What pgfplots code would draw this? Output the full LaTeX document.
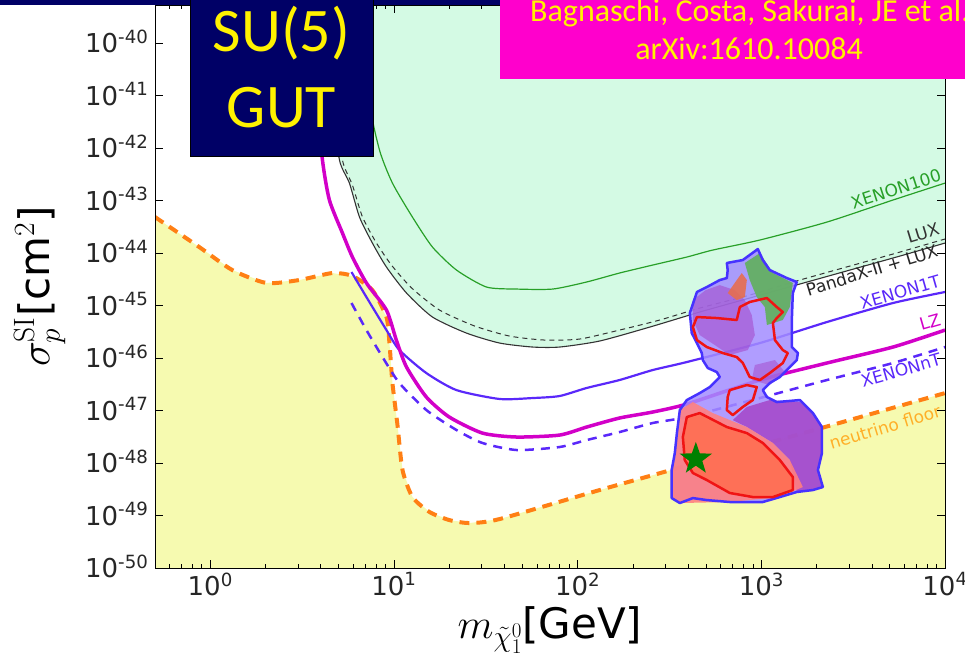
\RequirePackage{fix-cm}
\documentclass[border=0pt]{standalone}
\usepackage[no-math]{fontspec}
\setmainfont{DejaVu Sans}
\newfontfamily\carlito{Carlito}
\usepackage{pgfplots}
\pgfplotsset{compat=1.18}

\definecolor{mintfill}{RGB}{212,250,228}
\definecolor{floorfill}{RGB}{246,250,176}
\definecolor{xegreen}{RGB}{40,160,40}
\definecolor{xeblue}{RGB}{90,40,250}
\definecolor{lzmag}{RGB}{210,0,200}
\definecolor{nuorange}{RGB}{255,127,20}
\definecolor{nulabel}{RGB}{255,175,40}
\definecolor{blobline}{RGB}{70,50,255}
\definecolor{lavender}{RGB}{162,140,255}
\definecolor{purp}{RGB}{165,70,200}
\definecolor{salmon}{RGB}{255,128,128}
\definecolor{tomato}{RGB}{255,112,85}
\definecolor{patchgreen}{RGB}{100,175,100}
\definecolor{patchorange}{RGB}{230,110,80}
\definecolor{contred}{RGB}{240,20,20}
\definecolor{stargreen}{RGB}{0,128,0}
\definecolor{navybox}{RGB}{0,0,102}
\definecolor{pinkbox}{RGB}{255,0,204}

% filled five-pointed star
\pgfdeclareplotmark{fivestar}{%
  \pgfpathmoveto{\pgfpointpolar{90}{\pgfplotmarksize}}%
  \pgfpathlineto{\pgfpointpolar{126}{0.4\pgfplotmarksize}}%
  \pgfpathlineto{\pgfpointpolar{162}{\pgfplotmarksize}}%
  \pgfpathlineto{\pgfpointpolar{198}{0.4\pgfplotmarksize}}%
  \pgfpathlineto{\pgfpointpolar{234}{\pgfplotmarksize}}%
  \pgfpathlineto{\pgfpointpolar{270}{0.4\pgfplotmarksize}}%
  \pgfpathlineto{\pgfpointpolar{306}{\pgfplotmarksize}}%
  \pgfpathlineto{\pgfpointpolar{342}{0.4\pgfplotmarksize}}%
  \pgfpathlineto{\pgfpointpolar{18}{\pgfplotmarksize}}%
  \pgfpathlineto{\pgfpointpolar{54}{0.4\pgfplotmarksize}}%
  \pgfpathclose
  \pgfusepathqfill
}

\begin{document}
\begin{tikzpicture}
\useasboundingbox (0pt,0pt) rectangle (965pt,658pt);
\clip (0pt,0pt) rectangle (965pt,658pt);
\begin{axis}[
  at={(155pt,90pt)}, anchor=south west,
  scale only axis, width=790pt, height=563pt,
  xmode=log, ymode=log,
  xmin=0.5, xmax=1e4, ymin=1e-50, ymax=5.3e-40,
  axis on top,
  xtick={1,10,100,1000,10000},
  xticklabels={10\textsuperscript{0},10\textsuperscript{1},10\textsuperscript{2},10\textsuperscript{3},10\textsuperscript{4}},
  minor xtick={0.5,0.6,0.7,0.8,0.9,2,3,4,5,6,7,8,9,20,30,40,50,60,70,80,90,200,300,400,500,600,700,800,900,2000,3000,4000,5000,6000,7000,8000,9000},
  ytick={1e-50,1e-49,1e-48,1e-47,1e-46,1e-45,1e-44,1e-43,1e-42,1e-41,1e-40},
  yticklabels={10\textsuperscript{-50},10\textsuperscript{-49},10\textsuperscript{-48},10\textsuperscript{-47},10\textsuperscript{-46},10\textsuperscript{-45},10\textsuperscript{-44},10\textsuperscript{-43},10\textsuperscript{-42},10\textsuperscript{-41},10\textsuperscript{-40}},
  yminorticks=false,
  tick align=inside,
  major tick length=8pt, minor tick length=4pt,
  tick style={black, line width=0.8pt},
  axis line style={black, line width=1pt},
  tick label style={font=\fontsize{26}{30}\selectfont, text=black!85},
  yticklabel style={anchor=base east, yshift=-9.5pt, xshift=-3pt},
  xticklabel style={yshift=-1pt},
  xlabel={\(m_{\tilde{\chi}^0_1}\)[GeV]},
  ylabel={\(\sigma_p^{\mathrm{SI}}\)[cm\(^2\)]},
  label style={font=\fontsize{42}{46}\selectfont},
  xlabel style={at={(axis description cs:0.5,-0.110)}, anchor=center},
  ylabel style={at={(axis description cs:-0.146,0.5)}, anchor=center},
]

% region below the neutrino floor
\addplot[draw=none, fill=floorfill] coordinates {
 (0.5,4.85e-44) (0.871,1.30e-44) (1.318,4.74e-45) (2.02,2.69e-45) (3.05,3.06e-45)
 (4.62,4.16e-45) (5.94,3.65e-45) (7.63,1.97e-45) (9.10,6.04e-46) (9.45,1.93e-46)
 (9.81,3.34e-47) (10.45,5.30e-48) (11.13,7.36e-49) (12.61,2.25e-49) (15.6,1.17e-49)
 (20.0,8.20e-50) (25.8,7.20e-50) (37.6,8.57e-50) (131.8,3.06e-49) (462,1.045e-48)
 (1622,3.56e-48) (10000,2.15e-47) (10000,1e-51) (0.5,1e-51)} -- cycle;

% excluded region above PandaX-II + LUX
\addplot[draw=none, fill=mintfill] coordinates {
 (4.0,1e-39) (4.62,8.2e-42) (5.05,5.90e-43) (5.72,2.15e-43) (6.49,4.85e-44)
 (7.63,1.55e-44) (9.10,5.41e-45) (11.7,1.73e-45) (16.2,6.04e-46) (24.8,2.99e-46)
 (37.6,1.93e-46) (56.9,1.62e-46) (79.8,1.62e-46) (131.8,2.11e-46) (247,3.89e-46)
 (462,7.52e-46) (865,1.39e-45) (1622,2.57e-45) (3034,4.74e-45) (5690,8.77e-45)
 (10000,1.55e-44) (10000,1e-39)} -- cycle;

% neutrino floor
\addplot[nuorange, line width=4pt, dash pattern=on 10pt off 7pt, smooth, tension=0.4] coordinates {
 (0.5,4.85e-44) (0.871,1.30e-44) (1.318,4.74e-45) (2.02,2.69e-45) (3.05,3.06e-45)
 (4.62,4.16e-45) (5.94,3.65e-45) (7.63,1.97e-45) (9.10,6.04e-46) (9.45,1.93e-46)
 (9.81,3.34e-47) (10.45,5.30e-48) (11.13,7.36e-49) (12.61,2.25e-49) (15.6,1.17e-49)
 (20.0,8.20e-50) (25.8,7.20e-50) (37.6,8.57e-50) (131.8,3.06e-49) (462,1.045e-48)
 (1622,3.56e-48) (10000,2.15e-47)};

% XENON100
\addplot[xegreen, line width=1.2pt, smooth, tension=0.4] coordinates {
 (6.91,1e-39) (7.36,8.2e-42) (8.34,9.16e-43) (9.81,2.15e-43) (12.6,4.85e-44)
 (16.2,1.30e-44) (21.9,4.74e-45) (31.9,2.25e-45) (46.5,2.06e-45) (73.1,2.06e-45)
 (112,2.81e-45) (169,4.16e-45) (256,5.90e-45) (393,8.39e-45) (544,1.14e-44)
 (982,1.77e-44) (2275,3.89e-44) (5210,1.023e-43) (10000,2.15e-43)};

% LUX
\addplot[black!80, line width=1pt, dash pattern=on 5pt off 4pt, smooth, tension=0.4] coordinates {
 (4.34,1e-39) (4.80,8.2e-42) (5.24,5.9e-43) (5.94,1.97e-43) (6.74,4.85e-44)
 (8.03,1.55e-44) (9.69,5.90e-45) (12.5,2.15e-45) (17.7,8.2e-46) (27.5,4.07e-46)
 (42.6,2.62e-46) (66.1,2.20e-46) (102.5,2.30e-46) (169,3.41e-46) (280,5.30e-46)
 (462,8.95e-46) (865,1.585e-45) (1622,3.06e-45) (3034,5.65e-45) (5690,1.045e-44)
 (10000,1.85e-44)};

% PandaX-II + LUX
\addplot[black!80, line width=1.1pt, smooth, tension=0.4] coordinates {
 (4.0,1e-39) (4.62,8.2e-42) (5.05,5.90e-43) (5.72,2.15e-43) (6.49,4.85e-44)
 (7.63,1.55e-44) (9.10,5.41e-45) (11.7,1.73e-45) (16.2,6.04e-46) (24.8,2.99e-46)
 (37.6,1.93e-46) (56.9,1.62e-46) (79.8,1.62e-46) (131.8,2.11e-46) (247,3.89e-46)
 (462,7.52e-46) (865,1.39e-45) (1622,2.57e-45) (3034,4.74e-45) (5690,8.77e-45)
 (10000,1.55e-44)};

% XENON1T
\addplot[xeblue, line width=2.2pt, smooth, tension=0.4] coordinates {
 (5.87,4.35e-45) (7.08,1.45e-45) (9.10,3.41e-46) (10.7,1.42e-46) (15.0,5.18e-47)
 (21.9,2.45e-47) (37.6,1.66e-47) (56.9,1.73e-47) (79.8,1.89e-47) (112,2.69e-47)
 (169,3.81e-47) (256,5.90e-47) (393,8.39e-47) (982,1.93e-46) (2275,4.85e-46)
 (5210,1.117e-45) (10000,1.81e-45)};

% LZ
\addplot[lzmag, line width=3.5pt, smooth, tension=0.4] coordinates {
 (3.69,1e-39) (3.83,8.2e-42) (4.08,5.90e-43) (4.45,1.023e-43) (5.24,2.41e-44)
 (5.94,8.39e-45) (7.08,2.69e-45) (9.10,8.2e-46) (10.3,2.20e-46) (11.7,6.74e-47)
 (15.0,1.81e-47) (20.0,7.52e-48) (30.3,3.72e-48) (46.5,3.13e-48) (79.8,3.41e-48)
 (112,4.85e-48) (169,7.20e-48) (256,9.36e-48) (393,1.33e-47) (982,3.81e-47)
 (2275,8.04e-47) (5210,1.62e-46) (10000,3.41e-46)};

% XENONnT
\addplot[xeblue, line width=2.5pt, dash pattern=on 9pt off 7pt, smooth, tension=0.4] coordinates {
 (5.87,1.117e-45) (7.08,3.41e-46) (8.66,1.045e-46) (10.7,3.34e-47) (15.0,1.023e-47)
 (21.9,4.25e-48) (30.3,2.41e-48) (46.5,1.77e-48) (79.8,2.02e-48) (112,2.74e-48)
 (169,3.89e-48) (256,5.78e-48) (393,7.52e-48) (982,1.73e-47) (2275,3.81e-47)
 (5210,8.04e-47) (10000,1.62e-46)};

% SU(5) fit region: overall 95% CL area
\addplot[draw=none, fill=lavender, fill opacity=0.85] coordinates {
 (649,6.46e-45) (793,7.36e-45) (957,1.19e-44) (1019,7.36e-45) (1112,4.74e-45)
 (1377,3.34e-45) (1560,2.81e-45) (1484,1.73e-45) (1466,5.30e-46) (1466,1.62e-46)
 (1581,1.245e-46) (1560,9.16e-47) (1429,6.74e-47) (1262,4.35e-47) (1112,3.34e-47)
 (1019,2.45e-47) (1072,1.81e-47) (1214,1.45e-47) (1622,1.585e-47) (1910,8.95e-48)
 (2138,4.85e-48) (2138,1.55e-48) (2033,7.36e-49) (2163,3.49e-49) (1910,3.06e-49)
 (1560,2.81e-49) (1262,2.25e-49) (1019,1.81e-49) (673,1.81e-49) (505,1.97e-49)
 (424,2.15e-49) (360,1.73e-49) (325,2.15e-49) (325,7.36e-49) (338,1.55e-48)
 (347,3.72e-48) (360,1.023e-47) (393,1.585e-47) (462,2.15e-47) (524,2.80e-47)
 (594,4.35e-47) (572,5.41e-47) (511,6.46e-47) (480,9.16e-47) (474,1.245e-46)
 (446,1.93e-46) (418,2.99e-46) (408,7.20e-46) (446,1.81e-45) (505,2.25e-45)
 (594,3.06e-45) (649,3.34e-45) (656,4.74e-45)} -- cycle;

% purple patches
\addplot[draw=none, fill=purp, fill opacity=0.55] coordinates {
 (424,1.27e-45) (498,1.97e-45) (594,2.45e-45) (717,1.97e-45) (813,1.27e-45)
 (887,6.59e-46) (922,2.74e-46) (844,1.42e-46) (673,1.14e-46) (558,1.77e-46)
 (462,2.74e-46) (424,5.30e-46)} -- cycle;
\addplot[draw=none, fill=purp, fill opacity=0.5] coordinates {
 (922,7.36e-47) (1186,9.16e-47) (1343,5.41e-47) (1112,3.06e-47) (887,3.81e-47)} -- cycle;
\addplot[draw=none, fill=purp, fill opacity=0.85] coordinates {
 (699,6.59e-48) (834,1.17e-47) (1112,1.585e-47) (1622,1.45e-47) (1910,8.95e-48)
 (2138,4.85e-48) (2138,1.55e-48) (2033,7.36e-49) (2163,3.49e-49) (1910,3.06e-49)
 (1560,2.81e-49) (1429,1.14e-48) (1156,2.41e-48) (834,4.85e-48)} -- cycle;

% salmon and tomato areas of the low-mass lobe
\addplot[draw=none, fill=salmon, fill opacity=0.9] coordinates {
 (360,1.023e-47) (424,1.45e-47) (544,8.95e-48) (834,4.85e-48) (1156,2.41e-48)
 (1429,1.14e-48) (1683,3.49e-49) (1262,2.25e-49) (673,1.81e-49) (360,1.73e-49)
 (325,2.15e-49) (325,6.46e-49) (347,3.72e-48)} -- cycle;
\addplot[draw=none, fill=tomato, fill opacity=0.95] coordinates {
 (393,7.52e-48) (462,8.95e-48) (649,4.85e-48) (834,3.72e-48) (1019,2.41e-48)
 (1262,1.14e-48) (1484,5.41e-49) (1484,3.06e-49) (1156,2.25e-49) (899,2.25e-49)
 (673,2.69e-49) (505,4.74e-49) (424,6.46e-49) (383,1.14e-48) (374,3.13e-48)} -- cycle;

% green and orange patches at the top
\addplot[draw=none, fill=patchgreen, fill opacity=0.95] coordinates {
 (813,6.46e-45) (982,1.00e-44) (1156,4.16e-45) (1484,2.69e-45) (1429,9.36e-46)
 (1309,5.30e-46) (1072,4.25e-46) (1045,9.36e-46) (944,1.45e-45) (865,3.06e-45)} -- cycle;
\addplot[draw=none, fill=patchorange, fill opacity=0.9] coordinates {
 (656,1.73e-45) (735,3.06e-45) (783,4.16e-45) (834,3.06e-45) (813,1.45e-45)
 (735,1.27e-45)} -- cycle;

% outline of the region
\addplot[blobline, line width=2.5pt, line join=round] coordinates {
 (649,6.46e-45) (793,7.36e-45) (957,1.19e-44) (1019,7.36e-45) (1112,4.74e-45)
 (1377,3.34e-45) (1560,2.81e-45) (1484,1.73e-45) (1466,5.30e-46) (1466,1.62e-46)
 (1581,1.245e-46) (1560,9.16e-47) (1429,6.74e-47) (1262,4.35e-47) (1112,3.34e-47)
 (1019,2.45e-47) (1072,1.81e-47) (1214,1.45e-47) (1622,1.585e-47) (1910,8.95e-48)
 (2138,4.85e-48) (2138,1.55e-48) (2033,7.36e-49) (2163,3.49e-49) (1910,3.06e-49)
 (1560,2.81e-49) (1262,2.25e-49) (1019,1.81e-49) (673,1.81e-49) (505,1.97e-49)
 (424,2.15e-49) (360,1.73e-49) (325,2.15e-49) (325,7.36e-49) (338,1.55e-48)
 (347,3.72e-48) (360,1.023e-47) (393,1.585e-47) (462,2.15e-47) (524,2.80e-47)
 (594,4.35e-47) (572,5.41e-47) (511,6.46e-47) (480,9.16e-47) (474,1.245e-46)
 (446,1.93e-46) (418,2.99e-46) (408,7.20e-46) (446,1.81e-45) (505,2.25e-45)
 (594,3.06e-45) (649,3.34e-45) (656,4.74e-45)} -- cycle;

% 68% CL contours
\addplot[contred, line width=2.5pt, line join=round] coordinates {
 (446,6.04e-46) (572,5.78e-46) (735,5.30e-46) (764,9.36e-46) (865,1.17e-45)
 (1072,1.39e-45) (1214,9.36e-46) (1309,7.52e-46) (1214,5.78e-46) (1156,4.65e-46)
 (1186,2.20e-46) (1309,1.42e-46) (1393,1.245e-46) (1309,8.04e-47) (1112,5.18e-47)
 (982,3.81e-47) (865,4.35e-47) (793,8.04e-47) (735,1.045e-46) (617,1.245e-46)
 (505,1.62e-46) (446,2.20e-46) (424,3.89e-46)} -- cycle;
\addplot[contred, line width=2.5pt, line join=round] coordinates {
 (673,2.45e-47) (834,3.06e-47) (944,2.80e-47) (899,1.585e-47) (793,1.17e-47)
 (699,8.20e-48) (649,1.023e-47) (656,1.81e-47)} -- cycle;
\addplot[contred, line width=2.5pt, line join=round] coordinates {
 (393,7.52e-48) (462,8.95e-48) (649,4.85e-48) (834,3.72e-48) (1019,2.41e-48)
 (1262,1.14e-48) (1484,5.41e-49) (1484,3.06e-49) (1156,2.25e-49) (899,2.25e-49)
 (673,2.69e-49) (505,4.74e-49) (424,6.46e-49) (383,1.14e-48) (374,3.13e-48)} -- cycle;

% best-fit point
\addplot[only marks, mark=fivestar, mark size=17pt, color=stargreen] coordinates {(440,1.2e-48)};

% curve labels
\begin{scope}[every node/.style={font=\fontsize{17}{20}\selectfont, inner sep=0pt}]
\node[rotate=18, text=xegreen] at (axis cs:5410,1.66e-43) {XENON100};
\node[rotate=17, text=black!80] at (axis cs:7590,2.41e-44) {LUX};
\node[rotate=17, text=black!85] at (axis cs:4000,4.74e-45) {PandaX-II + LUX};
\node[rotate=16, text=xeblue] at (axis cs:5690,1.81e-45) {XENON1T};
\node[rotate=16, text=lzmag] at (axis cs:8280,4.85e-46) {LZ};
\node[rotate=16, text=xeblue] at (axis cs:5760,5.90e-47) {XENONnT};
\node[rotate=17, text=nulabel] at (axis cs:4710,4.85e-48) {neutrino floor};
\end{scope}
\end{axis}

% slide decorations
\fill[navybox] (0pt,653pt) rectangle (965pt,660pt);
\draw[fill=navybox, draw=black, line width=1pt] (190pt,501pt) rectangle (373pt,662pt);
\node[text=yellow, font=\carlito\fontsize{62}{62}\selectfont, anchor=base, inner sep=0pt] at (281.5pt,606pt) {SU(5)};
\node[text=yellow, font=\carlito\fontsize{62}{62}\selectfont, anchor=base, inner sep=0pt] at (281.5pt,530pt) {GUT};
\fill[pinkbox] (500pt,579pt) rectangle (1000pt,662pt);
\node[text=yellow, font=\carlito\fontsize{32}{32}\selectfont, anchor=base west, inner sep=0pt] at (530pt,636pt) {Bagnaschi, Costa, Sakurai, JE et al.:};
\node[text=yellow, font=\carlito\fontsize{32}{32}\selectfont, anchor=base, inner sep=0pt] at (749pt,598pt) {arXiv:1610.10084};
\end{tikzpicture}
\end{document}
